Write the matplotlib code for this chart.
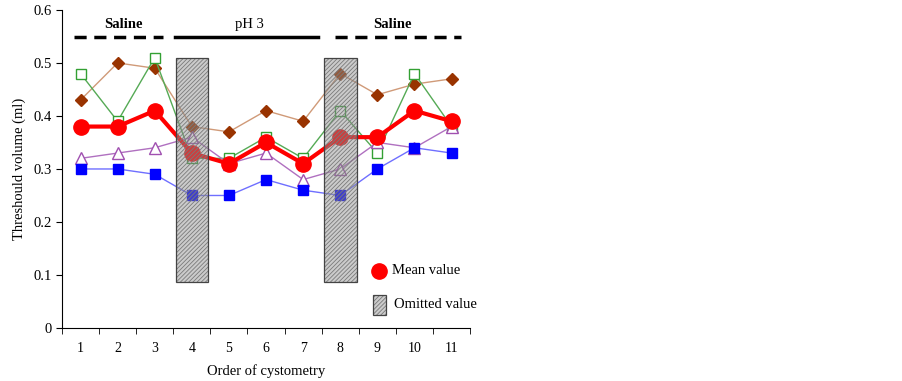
import matplotlib.pyplot as plt
from matplotlib.patches import Rectangle

plt.rcParams['font.family'] = ['Liberation Serif', 'DejaVu Serif']
plt.rcParams['hatch.linewidth'] = 0.6

# Données
order = [1, 2, 3, 4, 5, 6, 7, 8, 9, 10, 11]
mean_value = [0.38, 0.38, 0.41, 0.33, 0.31, 0.35, 0.31, 0.36, 0.36, 0.41, 0.39]
rat_diamond = [0.43, 0.50, 0.49, 0.38, 0.37, 0.41, 0.39, 0.48, 0.44, 0.46, 0.47]
rat_open_sq = [0.48, 0.39, 0.51, 0.32, 0.32, 0.36, 0.32, 0.41, 0.33, 0.48, 0.38]
rat_triangle = [0.32, 0.33, 0.34, 0.36, 0.31, 0.33, 0.28, 0.30, 0.35, 0.34, 0.38]
rat_square = [0.30, 0.30, 0.29, 0.25, 0.25, 0.28, 0.26, 0.25, 0.30, 0.34, 0.33]
omitted = [4, 8]
omitted_low, omitted_high = 0.087, 0.51


def hatched_box(ax, x0, y0, w, h, face, **kw):
    # remplissage hachuré + contour sombre
    ax.add_patch(Rectangle((x0, y0), w, h, facecolor=face,
                           edgecolor='#7a7a7a', hatch='////////', lw=0, **kw))
    ax.add_patch(Rectangle((x0, y0), w, h, fill=False, edgecolor='#444444',
                           lw=0.9, **kw))


fig = plt.figure(figsize=(9.02, 3.81), dpi=100)
ax = fig.add_axes([0.0687, 0.139, 0.4525, 0.835])

ax.plot(order, rat_diamond, '-', color='#d09a78', lw=1, marker='D', ms=6,
        mfc='#993300', mec='#993300', zorder=3)
ax.plot(order, rat_open_sq, '-', color='#55aa55', lw=1, marker='s', ms=7,
        mfc='white', mec='#33a033', mew=1, zorder=3)
ax.plot(order, rat_triangle, '-', color='#b070c0', lw=1, marker='^', ms=8,
        mfc='white', mec='#a050b0', mew=1, zorder=3)
ax.plot(order, rat_square, '-', color='#6f6fff', lw=1, marker='s', ms=7,
        mfc='#0000ff', mec='#0000ff', zorder=3)
ax.plot(order, mean_value, '-', color='#ff0000', lw=3, marker='o', ms=11,
        mfc='#ff0000', mec='#ff0000', zorder=4)

# Valeurs omises (rectangles hachurés)
for x in omitted:
    hatched_box(ax, x - 0.44, omitted_low, 0.88, omitted_high - omitted_low,
                (0.55, 0.55, 0.55, 0.45), zorder=5)

# Périodes de perfusion
ax.plot([0.82, 3.22], [0.548, 0.548], color='black', lw=2.5, ls=(0, (3.5, 2.2)))
ax.plot([3.55, 7.4], [0.548, 0.548], color='black', lw=2.5)
ax.plot([7.86, 11.25], [0.548, 0.548], color='black', lw=2.5, ls=(0, (3.5, 2.2)))
ax.text(2.15, 0.573, 'Saline', ha='center', va='center', fontsize=10.5, fontweight='bold')
ax.text(5.55, 0.573, 'pH 3', ha='center', va='center', fontsize=10.5)
ax.text(9.4, 0.573, 'Saline', ha='center', va='center', fontsize=10.5, fontweight='bold')

# Légende
ax.plot([9.04], [0.108], 'o', color='#ff0000', ms=11, clip_on=False)
ax.text(9.4, 0.108, 'Mean value', va='center', fontsize=10.5)
hatched_box(ax, 8.87, 0.025, 0.35, 0.037, '#cccccc', clip_on=False)
ax.text(9.45, 0.044, 'Omitted value', va='center', fontsize=10.5)

ax.set_xlim(0.5, 11.5)
ax.set_ylim(0, 0.6)
ax.set_xticks(order)
ax.set_xticklabels([str(o) for o in order], fontsize=10)
ax.set_xticks([o + 0.5 for o in range(0, 12)], minor=True)
ax.tick_params(axis='x', which='major', length=0, pad=10)
ax.tick_params(axis='x', which='minor', length=4, direction='out')
ax.set_yticks([0, 0.1, 0.2, 0.3, 0.4, 0.5, 0.6])
ax.set_yticklabels(['0', '0.1', '0.2', '0.3', '0.4', '0.5', '0.6'], fontsize=10.5)
ax.tick_params(axis='y', length=4, direction='out')
ax.spines['top'].set_visible(False)
ax.spines['right'].set_visible(False)
ax.set_xlabel("Order of cystometry", fontsize=10.5, labelpad=7)
ax.set_ylabel("Threshould volume (ml)", fontsize=10.5, labelpad=5)

plt.savefig('out.png', dpi=100)
plt.close()
